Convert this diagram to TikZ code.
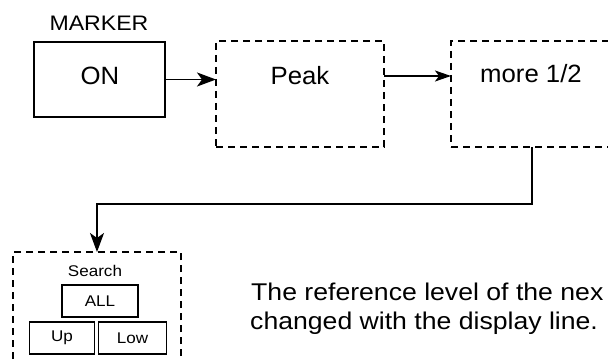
\documentclass[tikz,border=0pt]{standalone}
\usepackage{fontspec}
\usepackage{graphicx}
\setmainfont{Liberation Sans}
\usetikzlibrary{arrows.meta}
\newcommand\wtxt[2]{\scalebox{1.1}[1]{\fontsize{#1}{#1}\selectfont #2}}
\newcommand\btxt[2]{\scalebox{1.03}[1]{\fontsize{#1}{#1}\selectfont #2}}
\begin{document}
\begin{tikzpicture}[x=1pt,y=-1pt,
  solidbox/.style={draw,line width=2.2pt,inner sep=0pt,outer sep=0pt},
  dashbox/.style={draw,line width=1.9pt,dash pattern=on 7pt off 5pt,inner sep=0pt,outer sep=0pt},
  smallbox/.style={draw,line width=1.8pt,inner sep=0pt,outer sep=0pt},
  lbl/.style={inner sep=0pt,anchor=center},
  para/.style={inner sep=0pt,anchor=base west},
  arr/.style={line width=1.9pt,-{Stealth[length=19pt,width=14pt,inset=5pt]}},
  arrs/.style={line width=1.5pt,-{Stealth[length=16pt,width=11pt,inset=4pt]}}]
\useasboundingbox (0,0) rectangle (608,361);
\clip (0,0) rectangle (608,361);
\fill[white] (0,0) rectangle (608,361);

\node[lbl] (marker) at (99,23) {\wtxt{21}{MARKER}};
\node[solidbox,minimum width=131pt,minimum height=75pt] (on) at (99.5,79.5) {};
\node[lbl] (onlbl) at (100,76) {\btxt{25}{ON}};

\node[dashbox,minimum width=168pt,minimum height=106pt] (peak) at (300,94) {};
\node[lbl] (peaklbl) at (300,76) {\btxt{25}{Peak}};

\node[dashbox,minimum width=200pt,minimum height=106pt] (more) at (551,94) {};
\node[lbl] (morelbl) at (531,74) {\btxt{25}{more 1/2}};

\node[dashbox,minimum width=168pt,minimum height=140pt] (search) at (97,322) {};
\node[lbl] (searchlbl) at (95,271) {\wtxt{15.5}{Search}};
\node[smallbox,minimum width=76pt,minimum height=32pt] (all) at (100,301) {\wtxt{15.5}{ALL}};
\node[smallbox,minimum width=65pt,minimum height=32pt] (up) at (62,338) {\wtxt{15.5}{Up}};
\node[smallbox,minimum width=68pt,minimum height=32pt] (low) at (132.5,338) {\wtxt{15.5}{Low}};

\draw[arr] (on.east) -- (on.east -| peak.west);
\draw[arrs] (peak.east |- peaklbl) -- (more.west |- peaklbl);
\coordinate (turn) at (532,204);
\draw[arr] (turn |- more.south) -- (turn) -| (search.north);

\node[para] (line1) at (251,300) {\wtxt{24.2}{The reference level of the nex}};
\node[para] (line2) at (250,329) {\wtxt{24.2}{changed with the display line.}};
\end{tikzpicture}
\end{document}
